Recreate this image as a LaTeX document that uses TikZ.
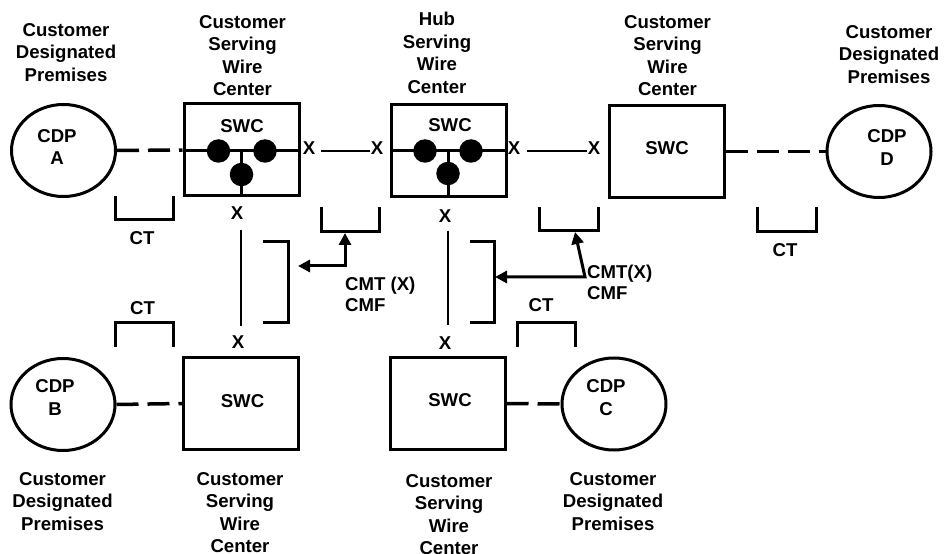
\documentclass[tikz,border=0pt]{standalone}
\usepackage{fontspec}
\setmainfont{Liberation Sans}
\usetikzlibrary{arrows.meta,shapes.geometric}
\begin{document}
\begin{tikzpicture}[x=1bp,y=-1bp,
  every node/.style={font=\fontsize{18.6bp}{22.6bp}\selectfont\bfseries, inner sep=0pt},
  box/.style={draw, rectangle, line width=3bp, minimum width=115bp, minimum height=92bp},
  cdp/.style={draw, ellipse, line width=3bp, minimum width=104bp, minimum height=92bp},
  title/.style={align=center, anchor=north},
  twoline/.style={align=center},
  cmt/.style={align=left, anchor=north west, font=\fontsize{18.6bp}{20.5bp}\selectfont\bfseries},
  dot/.style={circle, fill, minimum size=23.5bp},
  dashline/.style={line width=3.5bp, dash pattern=on 22bp off 9bp},
  xline/.style={line width=2.3bp},
  bus/.style={line width=3bp},
  brk/.style={line width=3bp},
  arr/.style={line width=3bp, {Triangle[length=12bp,width=12bp]}-{Triangle[length=12bp,width=12bp]}},
]
\useasboundingbox (0,0) rectangle (944,554);

% titles
\node[title] (t1) at (66,23) {Customer\\Designated\\Premises};
\node[title] (t2) at (242.5,15) {Customer\\Serving\\Wire\\Center};
\node[title] (t3) at (437,12) {Hub\\Serving\\Wire\\Center};
\node[title] (t4) at (667.5,15) {Customer\\Serving\\Wire\\Center};
\node[title] (t5) at (889,25) {Customer\\Designated\\Premises};
\node[title] (t6) at (62.5,472) {Customer\\Designated\\Premises};
\node[title] (t7) at (240,472) {Customer\\Serving\\Wire\\Center};
\node[title] (t8) at (449,474) {Customer\\Serving\\Wire\\Center};
\node[title] (t9) at (613,472) {Customer\\Designated\\Premises};

% CDP ellipses
\node[cdp] (A) at (63.5,150.5) {};
\node[cdp] (D) at (879,151.5) {};
\node[cdp] (B) at (63,404.5) {};
\node[cdp] (C) at (614,404) {};
\node[twoline] (Atxt) at (57,147) {CDP\\A};
\node[twoline] (Dtxt) at (887,147.5) {CDP\\D};
\node[twoline] (Btxt) at (55,397.5) {CDP\\B};
\node[twoline] (Ctxt) at (606,397.5) {CDP\\C};

% SWC boxes
\node[box] (S1) at (241.5,150) {};
\node[box] (S2) at (448.5,151) {};
\node[box] (S3) at (666.5,151.5) {};
\node[box] (S4) at (241,403.5) {};
\node[box] (S5) at (447.5,403.5) {};
\node (S1t) at (242,126) {SWC};
\node (S2t) at (450,125) {SWC};
\node (S3t) at (667,148.5) {SWC};
\node (S4t) at (242.5,401) {SWC};
\node (S5t) at (450,400) {SWC};

% switching dots
\node[dot] (d1) at (218.5,151) {};
\node[dot] (d2) at (265,151) {};
\node[dot] (d3) at (241.5,174.5) {};
\node[dot] (h1) at (425,151) {};
\node[dot] (h2) at (471,151) {};
\node[dot] (h3) at (448,173.5) {};
\draw[bus] (S1.west |- d1) -- (S1.east |- d1);
\draw[bus] (d3 |- d1) -- (d3 |- S1.south);
\draw[bus] (S2.west |- h1) -- (S2.east |- h1);
\draw[bus] (h3 |- h1) -- (h3 |- S2.south);

% dashed customer loops
\draw[dashline] (A.east) -- (S1.west);
\draw[dashline] (S3.east) -- (D.west);
\draw[dashline] (B.east) -- (S4.west);
\draw[dashline] (S5.east) -- (C.west);

% X terminations
\node (X1) at (309,148.5) {X};
\node (X2) at (377,148.5) {X};
\node (X3) at (514,148.5) {X};
\node (X4) at (594,148.5) {X};
\node (X5) at (237,213) {X};
\node (X6) at (238,342.5) {X};
\node (X7) at (445,216) {X};
\node (X8) at (445,343) {X};
\draw[xline] ([shift={(6,2.5)}]X1.east) -- ([shift={(-1,2.5)}]X2.west);
\draw[xline] ([shift={(7,2.5)}]X3.east) -- ([shift={(-1,2.5)}]X4.west);
\draw[xline] ([shift={(4,10)}]X5.south) -- ([shift={(3,-10)}]X6.north);
\draw[xline] ([shift={(3,8)}]X7.south) -- ([shift={(3,-11)}]X8.north);

% brackets
\draw[brk] (115,196) -- (115,220) -- (173,220) -- (173,196);
\draw[brk] (321,207) -- (321,232) -- (379,232) -- (379,207);
\draw[brk] (539,207) -- (539,231) -- (598,231) -- (598,207);
\draw[brk] (757,207) -- (757,232) -- (816,232) -- (816,207);
\draw[brk] (115,347) -- (115,323) -- (173,323) -- (173,347);
\draw[brk] (517,347) -- (517,323) -- (575,323) -- (575,347);
\draw[brk] (263,242) -- (288,242) -- (288,323) -- (263,323);
\draw[brk] (470,242) -- (494,242) -- (494,323) -- (470,323);

% CT labels
\node (ct1) at (142,238) {CT};
\node (ct2) at (142.5,308) {CT};
\node (ct3) at (541,305.5) {CT};
\node (ct4) at (785,250) {CT};

% CMT arrows
\coordinate (aL) at (298,266);
\coordinate (cL) at (345,266);
\coordinate (uL) at (345,233);
\coordinate (aR) at (495,277);
\coordinate (cR) at (585,277);
\coordinate (uR) at (575,232);
\draw[arr] (aL) -- (cL) -- (uL);
\draw[arr] (aR) -- (cR) -- (uR);
\node[cmt] (m1) at (345,277) {CMT (X)\\CMF};
\node[cmt] (m2) at (587,265) {CMT(X)\\CMF};
\end{tikzpicture}
\end{document}
